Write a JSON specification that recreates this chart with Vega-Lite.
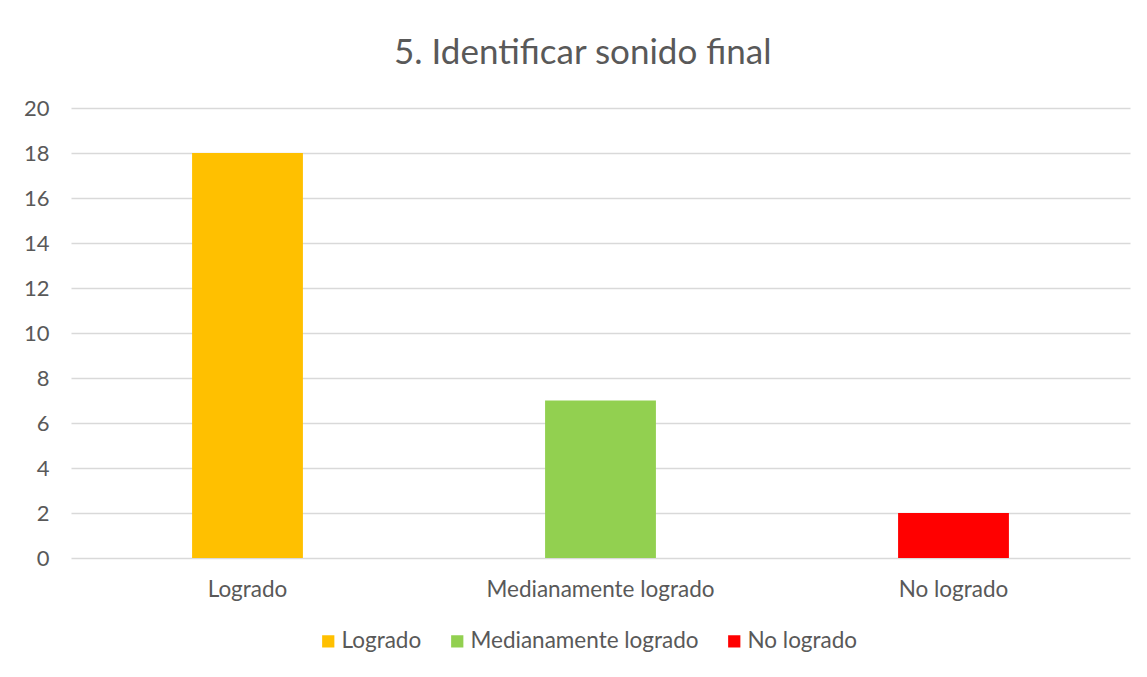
{
  "$schema": "https://vega.github.io/schema/vega-lite/v6.json",
  "width": 1059,
  "height": 450,
  "autosize": {"type": "none"},
  "padding": {"left": 71, "top": 108, "right": 17, "bottom": 119},
  "background": "white",
  "title": {
    "text": "5. Identificar sonido final",
    "font": "Lato",
    "fontSize": 35,
    "fontWeight": "normal",
    "color": "#595959",
    "anchor": "middle",
    "frame": "bounds",
    "offset": 26,
    "dx": 6
  },
  "data": {
    "values": [
      {"categoria": "Logrado", "valor": 18},
      {"categoria": "Medianamente logrado", "valor": 7},
      {"categoria": "No logrado", "valor": 2}
    ]
  },
  "mark": {"type": "bar"},
  "encoding": {
    "x": {
      "field": "categoria",
      "type": "nominal",
      "sort": null,
      "scale": {"paddingInner": 0.686, "paddingOuter": 0.343},
      "axis": {
        "title": null,
        "labelAngle": 0,
        "domain": false,
        "ticks": false,
        "labelPadding": 20,
        "labelLimit": 0,
        "labelFont": "Lato",
        "labelFontSize": 22.5,
        "labelColor": "#595959"
      }
    },
    "y": {
      "field": "valor",
      "type": "quantitative",
      "scale": {"domain": [0, 20]},
      "axis": {
        "title": null,
        "values": [0, 2, 4, 6, 8, 10, 12, 14, 16, 18, 20],
        "domain": false,
        "ticks": false,
        "labelPadding": 22,
        "labelFont": "Lato",
        "labelFontSize": 22,
        "labelColor": "#595959",
        "gridColor": "#d9d9d9",
        "gridWidth": 1.5
      }
    },
    "color": {
      "field": "categoria",
      "type": "nominal",
      "sort": null,
      "scale": {
        "domain": ["Logrado", "Medianamente logrado", "No logrado"],
        "range": ["#ffc000", "#92d050", "#ff0000"]
      },
      "legend": {
        "title": null,
        "orient": "none",
        "legendX": 246,
        "legendY": 522,
        "direction": "horizontal",
        "symbolType": "square",
        "symbolSize": 150,
        "symbolStrokeWidth": 0,
        "labelFont": "Lato",
        "labelFontSize": 22.5,
        "labelLimit": 0,
        "labelColor": "#595959",
        "columnPadding": 24,
        "labelOffset": 2
      }
    }
  },
  "config": {
    "view": {"stroke": null}
  }
}
